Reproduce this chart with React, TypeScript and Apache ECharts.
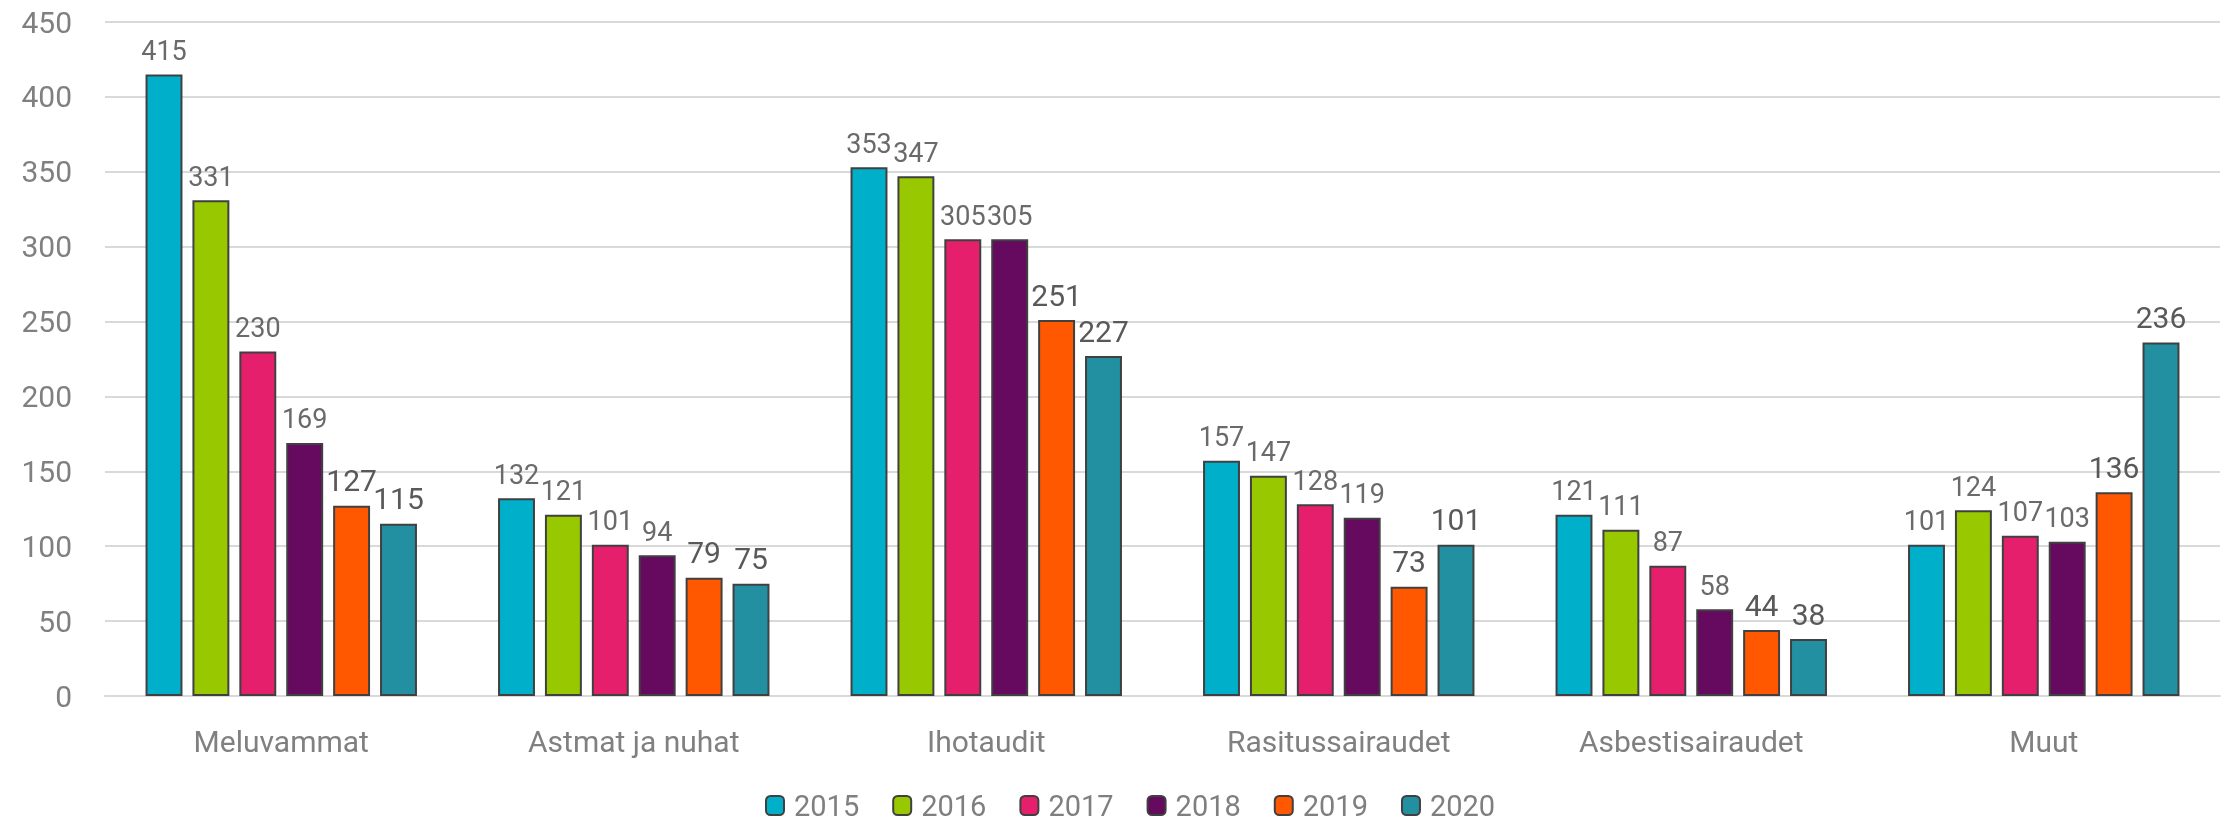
import React, { useEffect, useRef } from "react";
import * as echarts from "echarts";

const categories = ["Meluvammat", "Astmat ja nuhat", "Ihotaudit", "Rasitussairaudet", "Asbestisairaudet", "Muut"];
const years = ["2015", "2016", "2017", "2018", "2019", "2020"];
const v2015 = [415, 132, 353, 157, 121, 101];
const v2016 = [331, 121, 347, 147, 111, 124];
const v2017 = [230, 101, 305, 128, 87, 107];
const v2018 = [169, 94, 305, 119, 58, 103];
const v2019 = [127, 79, 251, 73, 44, 136];
const v2020 = [115, 75, 227, 101, 38, 236];
const seriesValues = [v2015, v2016, v2017, v2018, v2019, v2020];
const colors = ["#00AFC9", "#97C800", "#E61F6D", "#650A5E", "#FF5800", "#2290A0"];

export default function App() {
  const ref = useRef<HTMLDivElement>(null);
  useEffect(() => {
    if (!ref.current) return;
    const chart = echarts.init(ref.current, null, { renderer: "svg" });
    chart.setOption({
      animation: false,
      grid: { left: 105, right: 6, top: 22, bottom: 127, containLabel: false },
      legend: {
        data: years,
        left: 760,
        top: 786,
        padding: 5,
        itemWidth: 18,
        itemHeight: 19,
        itemGap: 33,
        textStyle: { fontSize: 29, color: "#7f7f7f", fontFamily: "Roboto", padding: [0, 0, 0, 5] },
      },
      xAxis: {
        type: "category",
        data: categories,
        axisLine: { lineStyle: { color: "#d9d9d9", width: 2 } },
        axisTick: { show: false },
        axisLabel: { fontSize: 30, color: "#808080", margin: 30, fontFamily: "Roboto" },
      },
      yAxis: {
        type: "value",
        min: 0,
        max: 450,
        interval: 50,
        axisLine: { show: false },
        axisTick: { show: false },
        splitLine: { lineStyle: { color: "#d9d9d9", width: 2 } },
        axisLabel: { fontSize: 30, color: "#808080", margin: 33, fontFamily: "Roboto" },
      },
      series: years.map((y, i) => ({
        name: y,
        type: "bar",
        data: seriesValues[i],
        barGap: "27%",
        barCategoryGap: "23%",
        itemStyle: { color: colors[i], borderColor: "#404040", borderWidth: 2 },
        label: {
          show: true,
          position: "top",
          distance: 10,
          fontSize: i >= 4 ? 30 : 27,
          color: i >= 4 ? "#595959" : "#6a6a6a",
          fontFamily: "Roboto",
        },
      })),
    });
    return () => chart.dispose();
  }, []);
  return <div ref={ref} style={{ position: "fixed", left: 0, top: 0, width: 2226, height: 823 }} />;
}
